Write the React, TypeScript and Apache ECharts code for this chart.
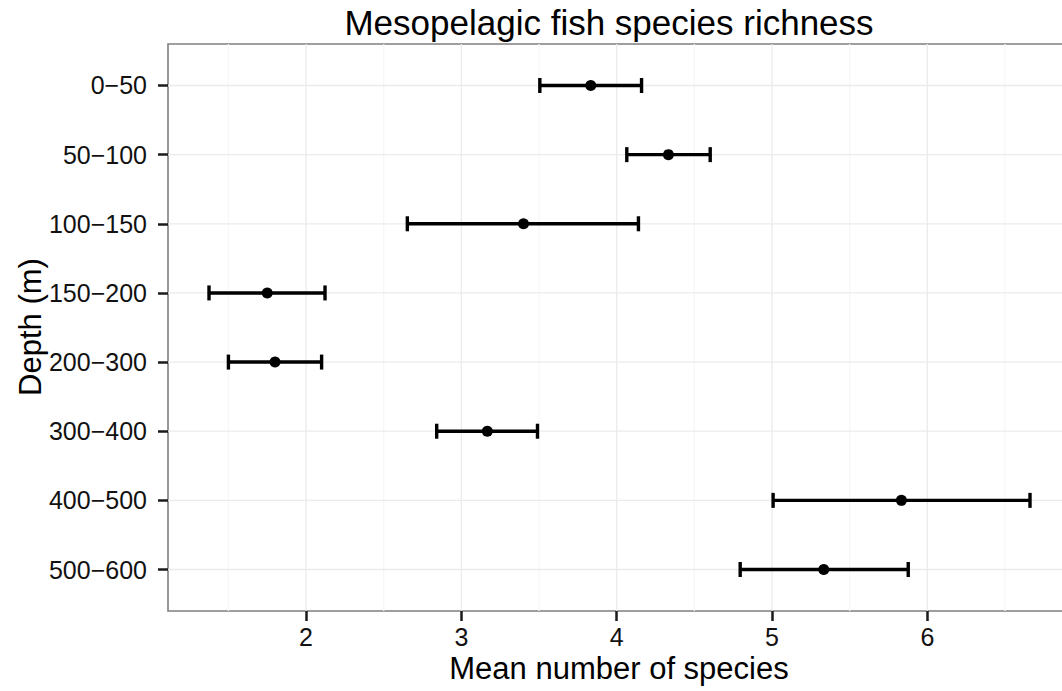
import React, { useEffect, useRef } from "react";
import * as echarts from "echarts";

// Depth bins (top to bottom) and the mean species count with its interval
const depthBins = ["0−50", "50−100", "100−150", "150−200", "200−300", "300−400", "400−500", "500−600"];
const meanSpecies = [3.833, 4.333, 3.4, 1.75, 1.8, 3.167, 5.833, 5.333];
const lowerSpecies = [3.505, 4.065, 2.652, 1.375, 1.5, 2.841, 5.007, 4.795];
const upperSpecies = [4.16, 4.602, 4.14, 2.122, 2.1, 3.49, 6.661, 5.877];

// Axis ticks
const xTicks = [2, 3, 4, 5, 6];
const xMinorTicks = [1.5, 2.5, 3.5, 4.5, 5.5, 6.5];
const yPositions = depthBins.map((_, i) => i + 1);

const FONT = "'Liberation Sans', Arial, sans-serif";
const TEXT = "#111111";
const TICK = "#1a1a1a";

export default function App() {
  const ref = useRef<HTMLDivElement>(null);

  useEffect(() => {
    if (!ref.current) return;
    const chart = echarts.init(ref.current, undefined, { renderer: "svg" });

    const xMin = 1.111;
    const xMax = 6.925;
    const yMin = 0.4;
    const yMax = 8.6;

    const gridLines = [
      ...xMinorTicks.map((v) => ({ value: [v, 0], kind: "vminor" })),
      ...xTicks.map((v) => ({ value: [v, 0], kind: "vmajor" })),
      ...yPositions.map((v) => ({ value: [xMin, v], kind: "hmajor" })),
    ];

    const option: any = {
      animation: false,
      backgroundColor: "#ffffff",
      textStyle: { fontFamily: FONT },
      grid: {
        left: 168,
        top: 44,
        right: 0,
        bottom: 80,
        show: true,
        borderColor: "#7f7f7f",
        borderWidth: 1.6,
        backgroundColor: "transparent",
      },
      xAxis: {
        type: "value",
        min: xMin,
        max: xMax,
        position: "bottom",
        axisLine: { show: false, onZero: false },
        axisTick: { show: true, length: 10, lineStyle: { color: TICK, width: 2.5 }, customValues: xTicks },
        axisLabel: {
          customValues: xTicks,
          color: TEXT,
          fontSize: 25,
          fontFamily: FONT,
          margin: 13,
        },
        splitLine: { show: false },
      },
      yAxis: {
        type: "value",
        min: yMin,
        max: yMax,
        inverse: true,
        position: "left",
        axisLine: { show: false, onZero: false },
        axisTick: { show: true, length: 10, lineStyle: { color: TICK, width: 2.5 }, customValues: yPositions },
        axisLabel: {
          customValues: yPositions,
          color: TEXT,
          fontSize: 25,
          fontFamily: FONT,
          margin: 21,
          formatter: (v: number) => depthBins[Math.round(v) - 1] ?? "",
        },
        splitLine: { show: false },
      },
      series: [
        {
          // panel grid lines
          type: "custom",
          z: 1,
          silent: true,
          data: gridLines,
          renderItem: (params: any, api: any) => {
            const cs = params.coordSys;
            const item = gridLines[params.dataIndex];
            if (item.kind === "hmajor") {
              const p = api.coord([xMin, api.value(1)]);
              return {
                type: "line",
                shape: { x1: cs.x, y1: p[1], x2: cs.x + cs.width, y2: p[1] },
                style: { stroke: "#ebebeb", lineWidth: 1.3 },
              };
            }
            const p = api.coord([api.value(0), yMin]);
            return {
              type: "line",
              shape: { x1: p[0], y1: cs.y, x2: p[0], y2: cs.y + cs.height },
              style: {
                stroke: item.kind === "vmajor" ? "#ebebeb" : "#f7f7f7",
                lineWidth: 1.3,
              },
            };
          },
        },
        {
          // horizontal error bars
          type: "custom",
          z: 3,
          silent: true,
          encode: { x: [0, 1], y: 2 },
          data: depthBins.map((_, i) => [lowerSpecies[i], upperSpecies[i], i + 1]),
          renderItem: (_params: any, api: any) => {
            const y = api.value(2);
            const a = api.coord([api.value(0), y]);
            const b = api.coord([api.value(1), y]);
            const h = 7.5;
            const style = { stroke: "#000000", lineWidth: 3.4, lineCap: "butt" };
            return {
              type: "group",
              children: [
                { type: "line", shape: { x1: a[0], y1: a[1], x2: b[0], y2: b[1] }, style },
                { type: "line", shape: { x1: a[0], y1: a[1] - h, x2: a[0], y2: a[1] + h }, style },
                { type: "line", shape: { x1: b[0], y1: b[1] - h, x2: b[0], y2: b[1] + h }, style },
              ],
            };
          },
        },
        {
          type: "scatter",
          z: 4,
          silent: true,
          symbol: "circle",
          symbolSize: 11,
          itemStyle: { color: "#000000", opacity: 1 },
          data: depthBins.map((_, i) => [meanSpecies[i], i + 1]),
        },
      ],
      graphic: [
        {
          type: "text",
          x: 609,
          y: 22,
          style: {
            text: "Mesopelagic fish species richness",
            fill: "#000000",
            font: `35px ${FONT}`,
            textAlign: "center",
            textVerticalAlign: "middle",
          },
        },
        {
          type: "text",
          x: 619,
          y: 668,
          style: {
            text: "Mean number of species",
            fill: "#000000",
            font: `31px ${FONT}`,
            textAlign: "center",
            textVerticalAlign: "middle",
          },
        },
        {
          type: "text",
          x: 30,
          y: 327,
          rotation: Math.PI / 2,
          style: {
            text: "Depth (m)",
            fill: "#000000",
            font: `31px ${FONT}`,
            textAlign: "center",
            textVerticalAlign: "middle",
          },
        },
      ],
    };

    chart.setOption(option);
    return () => chart.dispose();
  }, []);

  return (
    <div
      style={{
        position: "fixed",
        left: 0,
        top: 0,
        width: 1062,
        height: 691,
        overflow: "hidden",
        background: "#ffffff",
      }}
    >
      <div ref={ref} style={{ width: 1071, height: 691 }} />
    </div>
  );
}
